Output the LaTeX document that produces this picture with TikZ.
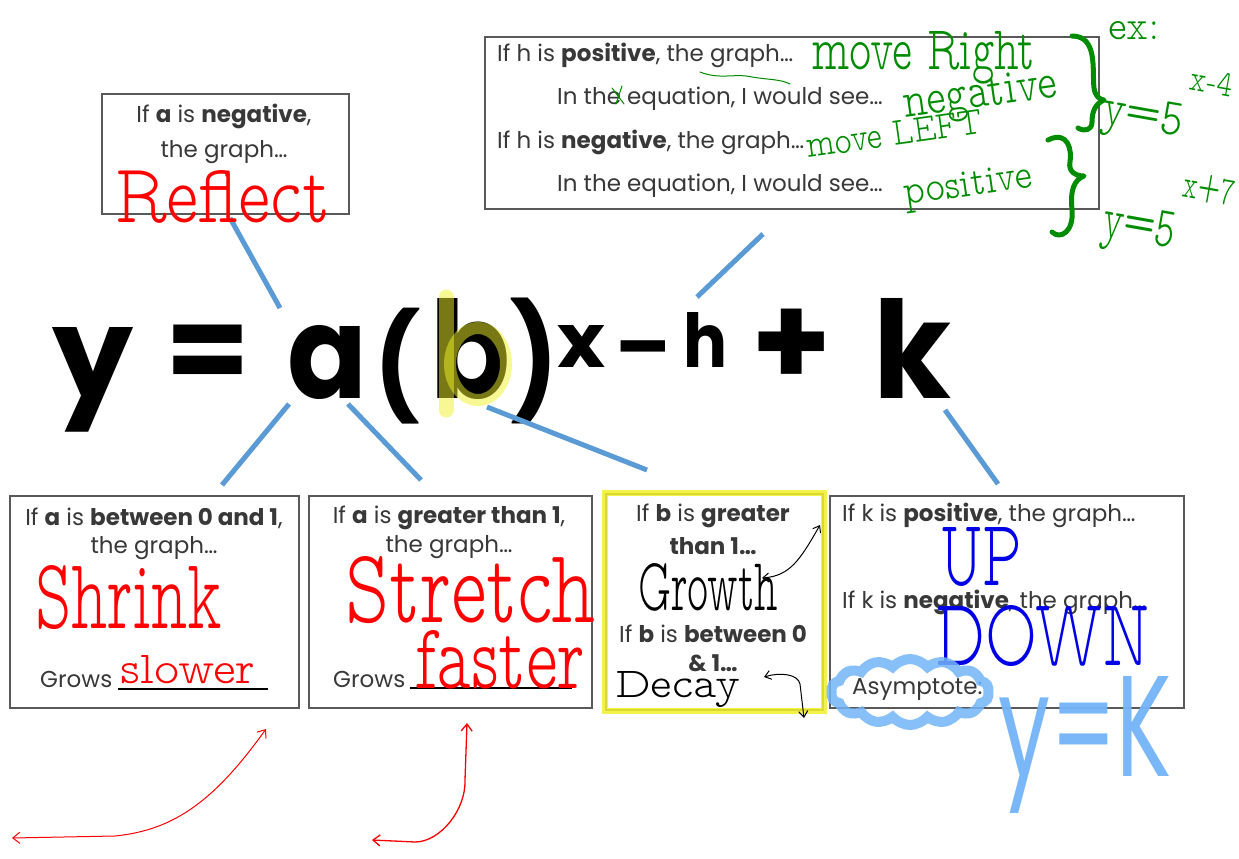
\documentclass[tikz,border=0pt]{standalone}
\usepackage{fontspec}
\setmainfont{Poppins}
\newfontfamily\hand{lmmonoproplt10-regular.otf}
\usetikzlibrary{shapes.symbols,arrows.meta}
\definecolor{linkblue}{RGB}{91,155,213}
\definecolor{gink}{RGB}{0,140,0}
\definecolor{bink}{RGB}{0,0,230}
\definecolor{lblue}{RGB}{115,180,248}
\definecolor{hiyel}{RGB}{240,240,40}
\newcommand\hw[3]{\resizebox{#1pt}{#2pt}{#3}}
\begin{document}
\begin{tikzpicture}[x=1pt,y=-1pt,
  box/.style={draw=black!65, line width=1.8pt, anchor=north west, inner sep=0},
  conn/.style={draw=linkblue, line width=5pt},
  txt/.style={font=\fontsize{23}{26}\selectfont, text=black!78, inner sep=0},
  eq/.style={font=\bfseries, inner sep=0, anchor=base west},
  hand/.style={font=\hand, inner sep=0, anchor=base west},
  pen/.style={line width=1pt, line cap=round, line join=round},
]
\useasboundingbox[fill=white] (0,0) rectangle (1239,859);

% ---------- boxes ----------
\node[box, minimum width=247pt, minimum height=120pt] (negbox) at (101,93) {};
\node[box, minimum width=614pt, minimum height=172pt] (hbox) at (484,36) {};
\node[box, minimum width=289pt, minimum height=212pt] (box1) at (9,495) {};
\node[box, minimum width=283pt, minimum height=212pt] (box2) at (308,495) {};
\node[box, minimum width=217pt, minimum height=216pt] (box3) at (605,493) {};
\node[box, minimum width=354pt, minimum height=212pt] (box4) at (829,495) {};
\draw[hiyel, line width=6pt, opacity=0.85] (box3.north west) rectangle (box3.south east);

% ---------- box texts ----------
\node[txt] (t1) at (224,116) {If \textbf{a} is \textbf{negative},};
\node[txt] (t2) at (224,152) {the graph\dots};

\node[txt, anchor=west] (h1) at (497,55) {If h is \textbf{positive}, the graph\dots};
\node[txt, anchor=west] (h2) at (557,99) {In the equation, I would see\dots};
\node[txt, anchor=west] (h3) at (497,142) {If h is \textbf{negative}, the graph\dots};
\node[txt, anchor=west] (h4) at (557,186) {In the equation, I would see\dots};

\node[txt] (b1a) at (154,518) {If \textbf{a} is \textbf{between 0 and 1},};
\node[txt] (b1b) at (154,548) {the graph\dots};
\node[txt, anchor=west] (b1c) at (40,679) {Grows};
\draw[black, line width=1.5pt] (118,689) -- (268,689);

\node[txt] (b2a) at (449,518) {If \textbf{a} is \textbf{greater than 1},};
\node[txt] (b2b) at (449,547) {the graph\dots};
\node[txt, anchor=west] (b2c) at (333,679) {Grows};
\draw[black, line width=1.5pt] (410,688) -- (572,688);

\node[txt] (b3a) at (713,516) {If \textbf{b} is \textbf{greater}};
\node[txt] (b3b) at (713,546) {\textbf{than 1\dots}};
\node[txt] (b3c) at (713,634) {If \textbf{b} is \textbf{between 0}};
\node[txt] (b3d) at (713,663) {\textbf{\& 1\dots}};

\node[txt, anchor=west] (k1) at (842,515) {If k is \textbf{positive}, the graph\dots};
\node[txt, anchor=west] (k2) at (842,602) {If k is \textbf{negative}, the graph\dots};
\node[txt, anchor=west] (k3) at (852,690) {Asymptote:};

% ---------- equation ----------
\node[eq] (ey) at (52,398) {\hw{81}{71}{y}};
\node[eq, font=\fontsize{122}{122}\selectfont\bfseries, anchor=base] (eeq) at (208,392) {=};
\node[eq] (ea) at (287,398) {\hw{80}{73}{a}};
\node[eq, anchor=north west] (elp) at (374,308) {\resizebox*{46pt}{116pt}{(}};
\node[eq] (eb) at (430,398) {\hw{80}{100}{b}};
\node[eq, anchor=north west] (erp) at (510,298) {\resizebox*{48pt}{126pt}{)}};
\node[eq] (ex) at (557,367) {\hw{48}{42}{x}};
\node[eq, font=\fontsize{80}{80}\selectfont\bfseries, anchor=base] (em) at (643,374) {\textendash};
\node[eq] (eh) at (683,367) {\hw{44}{55}{h}};
\node[eq, font=\fontsize{128}{128}\selectfont\bfseries, anchor=base] (eplus) at (792,386) {+};
\node[eq] (ek) at (873,398) {\hw{78}{100}{k}};
\draw[hiyel, line width=15pt, opacity=0.5, line cap=round]
  (446,297) -- (446,410);
\draw[hiyel, line width=12pt, opacity=0.5]
  (478,364) ellipse [x radius=28, y radius=36];

% ---------- connectors ----------
\coordinate (n1) at (230,218); \coordinate (a1) at (280,308);
\coordinate (n2) at (763,234); \coordinate (a2) at (697,297);
\coordinate (a3) at (289,404); \coordinate (n3) at (222,485);
\coordinate (a4) at (348,404); \coordinate (n4) at (421,480);
\coordinate (a5) at (487,407); \coordinate (n5) at (647,470);
\coordinate (a6) at (945,410); \coordinate (n6) at (998,484);
\draw[conn] (n1) -- (a1);
\draw[conn] (n2) -- (a2);
\draw[conn] (a3) -- (n3);
\draw[conn] (a4) -- (n4);
\draw[conn] (a5) -- (n5);
\draw[conn] (a6) -- (n6);

% ---------- handwriting ----------
\node[hand, text=red] (w1) at (115,222) {\hw{215}{52}{Reflect}};
\node[hand, text=gink] (w2) at (812,70) {\hw{223}{38}{move Right}};
\node[hand, text=gink, rotate=8] (w3) at (905,118) {\hw{155}{30}{negative}};
\node[hand, text=gink, rotate=8] (w4) at (808,158) {\hw{177}{24}{move LEFT}};
\node[hand, text=gink, rotate=8] (w5) at (905,205) {\hw{130}{25}{positive}};
\node[hand, text=gink] (w6) at (1108,40) {\hw{52}{18}{ex:}};
\node[hand, text=gink, rotate=-10] (w7) at (1100,122) {\hw{125}{70}{y=5\raisebox{0.9em}{\scriptsize x-4}}};
\node[hand, text=gink, rotate=-10] (w8) at (1100,235) {\hw{125}{78}{y=5\raisebox{0.9em}{\scriptsize x+7}}};
\draw[gink, line width=5pt, line cap=round, line join=round]
  (1072,36) .. controls (1098,36) and (1092,70) .. (1094,88)
  .. controls (1095,96) and (1100,100) .. (1104,100)
  .. controls (1095,104) and (1092,112) .. (1092,122)
  .. controls (1092,130) and (1085,132) .. (1078,128);
\draw[gink, line width=5pt, line cap=round, line join=round]
  (1048,140) .. controls (1068,130) and (1072,150) .. (1070,162)
  .. controls (1068,172) and (1076,176) .. (1084,176)
  .. controls (1074,180) and (1070,190) .. (1072,210)
  .. controls (1074,232) and (1060,240) .. (1052,232);
\draw[gink, pen] (700,72) .. controls (720,80) and (735,73) .. (752,77) .. controls (770,80) and (780,79) .. (790,84);
\draw[gink, pen] (612,88) -- (624,104);
\draw[gink, pen] (622,86) -- (616,104);

\node[hand, text=red] (w9) at (35,628) {\hw{187}{63}{Shrink}};
\node[hand, text=red] (w10) at (120,683) {\hw{135}{28}{slower}};
\node[hand, text=red] (w11) at (345,622) {\hw{250}{66}{Stretch}};
\node[hand, text=red] (w12) at (415,688) {\hw{170}{58}{faster}};
\node[hand, text=black] (w13) at (638,610) {\hw{140}{47}{Growth}};
\node[hand, text=black] (w14) at (615,697) {\hw{125}{26}{Decay}};
\node[hand, text=bink] (w15) at (940,585) {\hw{82}{58}{UP}};
\node[hand, text=bink] (w16) at (935,665) {\hw{215}{60}{DOWN}};

% cloud around asymptote
\node[cloud, cloud puffs=14, cloud puff arc=100, aspect=2.4, draw=lblue, line width=10pt,
  opacity=0.85, minimum width=158pt, minimum height=66pt] (cl) at (910,692) {};
\node[inner sep=0, anchor=base west, text=lblue, opacity=0.95] (yk) at (998,776) {\hw{174}{100}{y=K}};

% ---------- ink arrows ----------
\coordinate (g1) at (762,578); \coordinate (g2) at (820,525);
\draw[black, pen, {Straight Barb[length=6pt,width=9pt]}-{Straight Barb[length=6pt,width=9pt]}]
  (g1) .. controls (790,576) and (800,560) .. (g2);
\coordinate (d1) at (764,677); \coordinate (d2) at (804,718);
\draw[black, pen, {Straight Barb[length=6pt,width=9pt]}-{Straight Barb[length=6pt,width=9pt]}]
  (d1) .. controls (780,672) and (798,674) .. (800,684) -- (d2);
\coordinate (r1) at (12,838); \coordinate (r2) at (266,729);
\draw[red, pen, {Straight Barb[length=7pt,width=11pt]}-{Straight Barb[length=7pt,width=11pt]}]
  (r1) -- (115,836) .. controls (175,830) and (215,800) .. (r2);
\coordinate (r3) at (372,840); \coordinate (r4) at (467,723);
\draw[red, pen, line width=1.3pt, {Straight Barb[length=7pt,width=11pt]}-{Straight Barb[length=7pt,width=11pt]}]
  (r3) -- (415,842) .. controls (440,842) and (466,810) .. (465,780) -- (r4);
\end{tikzpicture}
\end{document}
